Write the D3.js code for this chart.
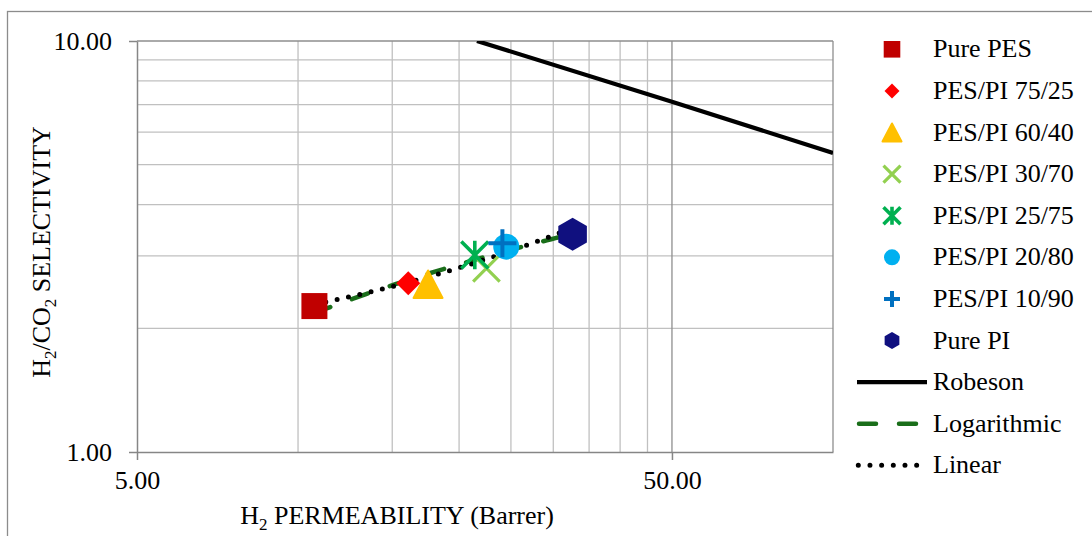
<!DOCTYPE html>
<html>
<head>
<meta charset="utf-8">
<script src="https://cdn.jsdelivr.net/npm/d3@7"></script>
<style>
  body { margin: 0; background: #ffffff; }
  svg { display: block; }
  text { font-family: "Liberation Serif", "Times New Roman", serif; fill: #000; }
</style>
</head>
<body>
<svg id="chart" width="1092" height="536"></svg>
<script>
// Membrane samples: H2 permeability (Barrer) and H2/CO2 selectivity
const seriesNames = ["Pure PES", "PES/PI 75/25", "PES/PI 60/40", "PES/PI 30/70",
                     "PES/PI 25/75", "PES/PI 20/80", "PES/PI 10/90", "Pure PI"];
const h2Permeability = [10.73, 16.07, 17.5, 22.5, 21.4, 24.5, 24.1, 32.6];
const h2co2Selectivity = [2.265, 2.573, 2.56, 2.80, 3.015, 3.16, 3.22, 3.386];
const markerShapes = ["square", "diamond", "triangle", "x", "asterisk", "circle", "plus", "hexagon"];
const markerColors = ["#C00000", "#FF0000", "#FFC000", "#92D050", "#00B050", "#00B0F0", "#0070C0", "#10107F"];

// Robeson upper bound (H2/CO2)
const robesonPermeability = [21.6, 50, 100];
const robesonSelectivity = [10, 7.12, 5.34];

// Axis ticks and gridlines
const xTickValues = [5, 50];
const yTickValues = [1, 10];
const xMinorGrid = [10, 15, 20, 25, 30, 35, 40, 45];
const xMajorGrid = [50, 100];
const yMinorGrid = [2, 3, 4, 5, 6, 7, 8, 9];
const yMajorGrid = [10];

const serif = '"Liberation Serif", "Times New Roman", serif';
const svg = d3.select("#chart");
const plot = { left: 137, right: 833, top: 41, bottom: 452 };

const x = d3.scaleLog().domain([5, 100]).range([plot.left, plot.right]);
const y = d3.scaleLog().domain([1, 10]).range([plot.bottom, plot.top]);

// Outer chart frame
svg.append("rect")
  .attr("x", 7.5).attr("y", 11.5).attr("width", 1200).attr("height", 600)
  .attr("fill", "none").attr("stroke", "#8c8c8c").attr("stroke-width", 1.3);

// Gridlines
const grid = svg.append("g");
grid.selectAll(".xminor").data(xMinorGrid).join("line")
  .attr("x1", d => x(d)).attr("x2", d => x(d))
  .attr("y1", plot.top).attr("y2", plot.bottom)
  .attr("stroke", "#c0c0c0").attr("stroke-width", 1.3);
grid.selectAll(".yminor").data(yMinorGrid).join("line")
  .attr("y1", d => y(d)).attr("y2", d => y(d))
  .attr("x1", plot.left).attr("x2", plot.right)
  .attr("stroke", "#c0c0c0").attr("stroke-width", 1.3);
grid.selectAll(".xmajor").data(xMajorGrid).join("line")
  .attr("x1", d => x(d)).attr("x2", d => x(d))
  .attr("y1", plot.top).attr("y2", plot.bottom)
  .attr("stroke", "#8e8e8e").attr("stroke-width", 1.3);
grid.selectAll(".ymajor").data(yMajorGrid).join("line")
  .attr("y1", d => y(d)).attr("y2", d => y(d))
  .attr("x1", plot.left).attr("x2", plot.right)
  .attr("stroke", "#8e8e8e").attr("stroke-width", 1.3);

// Axes
const fmt = d3.format(".2f");
const yAxis = svg.append("g").attr("transform", `translate(${plot.left},0)`)
  .call(d3.axisLeft(y).tickValues(yTickValues).tickFormat(fmt).tickSizeInner(8).tickSizeOuter(0).tickPadding(17));
const xAxis = svg.append("g").attr("transform", `translate(0,${plot.bottom})`)
  .call(d3.axisBottom(x).tickValues(xTickValues).tickFormat(fmt).tickSizeInner(8).tickSizeOuter(0).tickPadding(11));
[xAxis, yAxis].forEach(ax => {
  ax.attr("font-family", serif).attr("font-size", 26);
  ax.select(".domain").attr("stroke", "#868686").attr("stroke-width", 1.5);
  ax.selectAll(".tick line").attr("stroke", "#868686").attr("stroke-width", 1.5);
  ax.selectAll(".tick text").style("font-family", serif).style("font-size", "26px").attr("fill", "#000");
});

// Axis titles
const xTitle = svg.append("text").attr("x", 397).attr("y", 524)
  .attr("text-anchor", "middle").attr("font-size", 26);
xTitle.append("tspan").text("H");
xTitle.append("tspan").attr("font-size", 17).attr("dy", 6).text("2");
xTitle.append("tspan").attr("dy", -6).text(" PERMEABILITY (Barrer)");

const yTitle = svg.append("text").attr("transform", "translate(49.5,252) rotate(-90)")
  .attr("text-anchor", "middle").attr("font-size", 26);
yTitle.append("tspan").text("H");
yTitle.append("tspan").attr("font-size", 17).attr("dy", 6).text("2");
yTitle.append("tspan").attr("dy", -6).text("/CO");
yTitle.append("tspan").attr("font-size", 17).attr("dy", 6).text("2");
yTitle.append("tspan").attr("dy", -6).text(" SELECTIVITY");

// Clip for lines inside the plot area
svg.append("clipPath").attr("id", "plotClip").append("rect")
  .attr("x", plot.left).attr("y", plot.top)
  .attr("width", plot.right - plot.left).attr("height", plot.bottom - plot.top);

// Robeson upper bound
const robeson = robesonPermeability.map((p, i) => [p, robesonSelectivity[i]]);
const line = d3.line().x(d => x(d[0])).y(d => y(d[1]));
svg.append("path").datum(robeson).attr("d", line)
  .attr("clip-path", "url(#plotClip)")
  .attr("fill", "none").attr("stroke", "#000").attr("stroke-width", 4.2);

// Trendlines fitted to all samples (logarithmic and linear least squares)
function leastSquares(xs, ys) {
  const n = xs.length, mx = d3.mean(xs), my = d3.mean(ys);
  let sxy = 0, sxx = 0;
  for (let i = 0; i < n; i++) { sxy += (xs[i] - mx) * (ys[i] - my); sxx += (xs[i] - mx) ** 2; }
  const b = sxy / sxx;
  return { a: my - b * mx, b };
}
const logFit = leastSquares(h2Permeability.map(Math.log), h2co2Selectivity);
const linFit = leastSquares(h2Permeability, h2co2Selectivity);
const [pMin, pMax] = d3.extent(h2Permeability);
const pSamples = d3.range(0, 61).map(i => pMin * Math.pow(pMax / pMin, i / 60));
const logTrend = pSamples.map(p => [p, logFit.a + logFit.b * Math.log(p)]);
const linTrend = pSamples.map(p => [p, linFit.a + linFit.b * p]);

svg.append("path").datum(logTrend).attr("d", line)
  .attr("fill", "none").attr("stroke", "#1a6e1a").attr("stroke-width", 4.5)
  .attr("stroke-dasharray", "17 23").attr("stroke-linecap", "round");
svg.append("path").datum(linTrend).attr("d", line)
  .attr("fill", "none").attr("stroke", "#000").attr("stroke-width", 5)
  .attr("stroke-dasharray", "0 11.6").attr("stroke-linecap", "round");

// Marker shapes
function markerPath(shape, h) {
  const p = d3.path();
  switch (shape) {
    case "square": p.rect(-h, -h, 2 * h, 2 * h); break;
    case "diamond": p.moveTo(0, -h); p.lineTo(h, 0); p.lineTo(0, h); p.lineTo(-h, 0); p.closePath(); break;
    case "triangle": p.moveTo(0, -h * 0.95); p.lineTo(h, h * 0.95); p.lineTo(-h, h * 0.95); p.closePath(); break;
    case "x": p.moveTo(-h, -h); p.lineTo(h, h); p.moveTo(-h, h); p.lineTo(h, -h); break;
    case "asterisk": p.moveTo(-h, -h); p.lineTo(h, h); p.moveTo(-h, h); p.lineTo(h, -h); p.moveTo(0, -h * 1.05); p.lineTo(0, h * 1.05); break;
    case "circle": p.arc(0, 0, h, 0, 2 * Math.PI); break;
    case "plus": p.moveTo(-h, 0); p.lineTo(h, 0); p.moveTo(0, -h); p.lineTo(0, h); break;
    case "hexagon":
      for (let k = 0; k < 6; k++) {
        const a = -Math.PI / 2 + k * Math.PI / 3;
        if (k === 0) p.moveTo(h * Math.cos(a), h * Math.sin(a)); else p.lineTo(h * Math.cos(a), h * Math.sin(a));
      }
      p.closePath(); break;
  }
  return p.toString();
}
const strokeShapes = { x: 3.2, asterisk: 3.6, plus: 4 };
function drawMarker(g, shape, color, h) {
  const path = g.append("path").attr("d", markerPath(shape, h));
  if (strokeShapes[shape]) {
    path.attr("fill", "none").attr("stroke", color).attr("stroke-width", strokeShapes[shape]);
  } else {
    path.attr("fill", color);
    if (shape === "triangle") path.attr("stroke", color).attr("stroke-width", 2).attr("stroke-linejoin", "round");
  }
}

// Data markers
const plotSizes = { square: 13, diamond: 12, triangle: 14.5, x: 13.3, asterisk: 13.5, circle: 13, plus: 14, hexagon: 16.5 };
seriesNames.forEach((name, i) => {
  const g = svg.append("g").attr("transform", `translate(${x(h2Permeability[i])},${y(h2co2Selectivity[i])})`);
  drawMarker(g, markerShapes[i], markerColors[i], plotSizes[markerShapes[i]]);
});

// Legend
const legendSizes = { square: 8.3, diamond: 7.5, triangle: 9.5, x: 8.5, asterisk: 8.5, circle: 8, plus: 8, hexagon: 8.5 };
const legendY = i => 49.3 + i * 41.6;
const legend = svg.append("g");
seriesNames.forEach((name, i) => {
  const g = legend.append("g").attr("transform", `translate(892,${legendY(i)})`);
  drawMarker(g, markerShapes[i], markerColors[i], legendSizes[markerShapes[i]]);
  legend.append("text").attr("x", 933).attr("y", legendY(i) + 8).attr("font-size", 26).text(name);
});
const lineEntries = [
  { name: "Robeson", stroke: "#000", width: 4.2, dash: null, cap: "butt", x1: 857, x2: 927 },
  { name: "Logarithmic", stroke: "#1a6e1a", width: 4.5, dash: "17 23", cap: "round", x1: 859, x2: 927 },
  { name: "Linear", stroke: "#000", width: 5, dash: "0 11.67", cap: "round", x1: 858.3, x2: 927 }
];
lineEntries.forEach((e, j) => {
  const yy = legendY(8 + j);
  legend.append("line").attr("x1", e.x1).attr("x2", e.x2).attr("y1", yy).attr("y2", yy)
    .attr("stroke", e.stroke).attr("stroke-width", e.width)
    .attr("stroke-dasharray", e.dash).attr("stroke-linecap", e.cap);
  legend.append("text").attr("x", 933).attr("y", yy + 8).attr("font-size", 26).text(e.name);
});
</script>
</body>
</html>
